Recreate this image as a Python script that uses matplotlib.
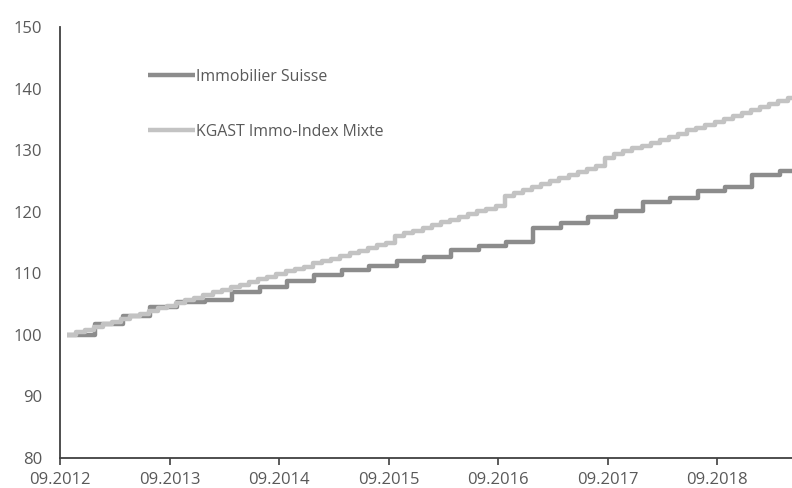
import matplotlib
matplotlib.use("Agg")
import matplotlib.pyplot as plt
import numpy as np

# ---- data ----
tick_labels = ["09.2012", "09.2013", "09.2014", "09.2015", "09.2016", "09.2017", "09.2018"]

# KGAST Immo-Index Mixte, monthly values starting 09.2012
kgast = [100.0, 100.4, 100.8, 101.3, 101.7, 102.1, 102.6, 103.0, 103.4, 103.9,
         104.3, 104.7, 105.2, 105.6, 106.0, 106.4, 106.9, 107.3, 107.7, 108.1,
         108.6, 109.0, 109.4, 109.9, 110.3, 110.7, 111.1, 111.6, 112.0, 112.4,
         112.8, 113.3, 113.7, 114.1, 114.6, 115.0, 116.0, 116.5, 116.9, 117.4,
         117.8, 118.3, 118.7, 119.2, 119.6, 120.1, 120.5, 121.0, 122.5, 123.0,
         123.5, 124.0, 124.5, 125.0, 125.5, 126.0, 126.5, 127.0, 127.5, 128.8,
         129.3, 129.8, 130.3, 130.7, 131.2, 131.7, 132.2, 132.7, 133.2, 133.6,
         134.1, 134.6, 135.1, 135.6, 136.1, 136.5, 137.0, 137.5, 138.0, 138.5]

# Immobilier Suisse, quarterly values
immo = [100.0, 101.8, 103.0, 104.5, 105.3, 105.6, 107.0, 107.8, 108.7, 109.7,
        110.6, 111.2, 112.0, 112.7, 113.8, 114.4, 115.1, 117.4, 118.2, 119.2,
        120.1, 121.6, 122.3, 123.3, 124.0, 125.9, 126.6]

names = ["Immobilier Suisse", "KGAST Immo-Index Mixte"]

# ---- positions (months since 09.2012) ----
start = 0.72
x_end = 80.2
kx = start + np.arange(len(kgast))
ix = start + 3 * np.arange(len(immo)) + np.r_[0, np.full(len(immo) - 1, 0.15)]

kx_full = np.r_[kx, x_end + 1]
ky_full = np.r_[kgast, kgast[-1]]
ix_full = np.r_[ix, x_end + 1]
iy_full = np.r_[immo, immo[-1]]

plt.rcParams['font.family'] = ['Open Sans', 'DejaVu Sans']
text_col = "#595959"

fig = plt.figure(figsize=(7.92, 4.88), dpi=100)
ax = fig.add_axes([60 / 792, 30 / 488, 732 / 792, 431 / 488])

ax.plot(ix_full, iy_full, drawstyle="steps-post", color="#8c8c8c", lw=3.2,
        label=names[0], solid_capstyle="butt")
ax.plot(kx_full, ky_full, drawstyle="steps-post", color="#c3c3c3", lw=3.2,
        label=names[1], solid_capstyle="butt")

ax.set_xlim(0, x_end)
ax.set_ylim(80, 150)
ax.set_yticks(np.arange(80, 151, 10))
ax.set_xticks(np.arange(len(tick_labels)) * 12)
ax.set_xticklabels(tick_labels)

for s in ["top", "right"]:
    ax.spines[s].set_visible(False)
for s in ["left", "bottom"]:
    ax.spines[s].set_color("#404040")
    ax.spines[s].set_linewidth(1.3)

ax.tick_params(axis="x", direction="out", length=5, width=1.2, color="#404040",
               labelsize=12, labelcolor=text_col, pad=5)
ax.tick_params(axis="y", length=0, labelsize=12, labelcolor=text_col, pad=13)

leg = ax.legend(loc="upper left", bbox_to_anchor=(0.12, 0.903), frameon=False,
                fontsize=11.4, handlelength=3.0, handletextpad=0.05,
                labelspacing=2.45, borderpad=0, borderaxespad=0)
for t in leg.get_texts():
    t.set_color(text_col)

fig.savefig("out.png", dpi=100)
